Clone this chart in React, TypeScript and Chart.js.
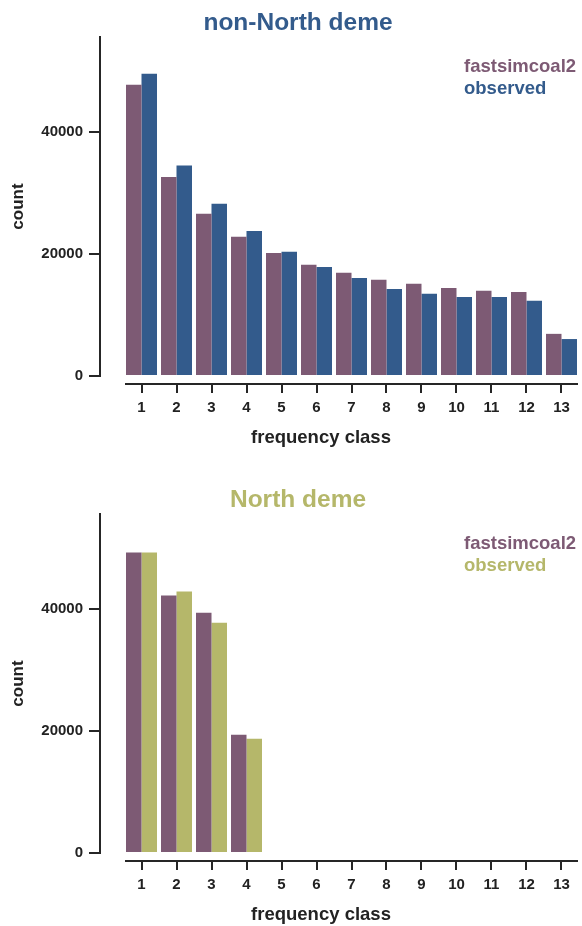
import React, { useEffect, useRef } from "react";
import { Chart, registerables } from "chart.js";

Chart.register(...registerables);

const FONT = "'Liberation Sans', Arial, sans-serif";
Chart.defaults.font.family = FONT;
Chart.defaults.font.weight = "bold";

// ---- data ----
const classes = [1, 2, 3, 4, 5, 6, 7, 8, 9, 10, 11, 12, 13];
const yTickValues = [0, 20000, 40000];
const yMax = 55500;

const nonNorthFsc = [47700, 32600, 26550, 22800, 20150, 18200, 16900, 15750, 15100, 14400, 13950, 13750, 6900];
const nonNorthObs = [49500, 34450, 28200, 23750, 20350, 17850, 16050, 14250, 13450, 12950, 12950, 12300, 6050];
const northFsc = [49200, 42150, 39350, 19350, 0, 0, 0, 0, 0, 0, 0, 0, 0];
const northObs = [49200, 42800, 37700, 18700, 0, 0, 0, 0, 0, 0, 0, 0, 0];

const FSC_COLOR = "#7d5a74";
const BLUE = "#335b8c";
const OLIVE = "#b5b76a";
const AXIS = "#262626";
const TEXT = "#222222";

if (typeof document !== "undefined") {
  document.body.style.margin = "0";
}

const panelText = {
  id: "panelText",
  afterDraw(chart: any, _args: any, opts: any) {
    const ctx = chart.ctx;
    const ca = chart.chartArea;
    ctx.save();
    ctx.textBaseline = "middle";
    // title
    ctx.font = `bold 24.5px ${FONT}`;
    ctx.fillStyle = opts.titleColor;
    ctx.textAlign = "center";
    ctx.fillText(opts.title, ca.left + 172, ca.top - 14);
    // legend
    ctx.font = `bold 18.5px ${FONT}`;
    ctx.textAlign = "left";
    chart.data.datasets.forEach((ds: any, i: number) => {
      ctx.fillStyle = ds.backgroundColor;
      ctx.fillText(ds.label, ca.right - 113, ca.top + 30 + i * 22);
    });
    // x axis title
    ctx.fillStyle = TEXT;
    ctx.font = `bold 18.5px ${FONT}`;
    ctx.textAlign = "center";
    ctx.fillText("frequency class", ca.left + 195, ca.bottom + 62);
    // y axis title
    ctx.translate(18.5, (ca.top + ca.bottom) / 2);
    ctx.rotate(-Math.PI / 2);
    ctx.font = `bold 17px ${FONT}`;
    ctx.fillText("count", 0, 0);
    ctx.restore();
  },
};

type PanelProps = {
  title: string;
  titleColor: string;
  obsColor: string;
  fsc: number[];
  obs: number[];
  height: number;
};

function Panel({ title, titleColor, obsColor, fsc, obs, height }: PanelProps) {
  const ref = useRef<HTMLCanvasElement | null>(null);
  useEffect(() => {
    if (!ref.current) return;
    const tickFont = { size: 15, weight: "bold" as const };
    const chart = new Chart(ref.current, {
      type: "bar",
      data: {
        datasets: [
          {
            label: "fastsimcoal2",
            data: classes.map((c, i) => ({ x: c, y: fsc[i] })),
            backgroundColor: FSC_COLOR,
            borderWidth: 0,
            categoryPercentage: 31 / 35,
            barPercentage: 1,
            xAxisID: "x",
            yAxisID: "y",
          },
          {
            label: "observed",
            data: classes.map((c, i) => ({ x: c, y: obs[i] })),
            backgroundColor: obsColor,
            borderWidth: 0,
            categoryPercentage: 31 / 35,
            barPercentage: 1,
            xAxisID: "x",
            yAxisID: "y",
          },
        ],
      },
      options: {
        responsive: false,
        animation: false,
        events: [],
        layout: { padding: { left: 0, right: 5, top: 37, bottom: height - 376 - 8 - 40 } },
        plugins: {
          legend: { display: false },
          tooltip: { enabled: false },
          title: { display: false },
          panelText: { title, titleColor },
        } as any,
        scales: {
          x: {
            type: "linear",
            position: "bottom",
            weight: 1,
            offset: false,
            bounds: "data",
            min: 0.557,
            max: 13.443,
            afterBuildTicks: (s: any) => {
              s.ticks = classes.map((v) => ({ value: v }));
            },
            afterFit: (s: any) => {
              s.height = 40;
            },
            grid: { display: true, offset: false, drawOnChartArea: false, drawTicks: true, tickLength: 9, color: AXIS, lineWidth: 2 },
            border: { display: true, color: AXIS, width: 2 },
            ticks: { color: TEXT, font: tickFont, padding: 6, autoSkip: false, maxRotation: 0, callback: (v: any) => String(v) },
          },
          xPad: {
            type: "linear",
            position: "bottom",
            weight: 0,
            grid: { display: false },
            border: { display: false },
            ticks: { display: false },
            afterFit: (s: any) => {
              s.height = 8;
            },
          },
          y: {
            type: "linear",
            position: "left",
            weight: 1,
            bounds: "data",
            min: 0,
            max: yMax,
            afterBuildTicks: (s: any) => {
              s.ticks = yTickValues.map((v) => ({ value: v }));
            },
            afterFit: (s: any) => {
              s.width = 100;
            },
            grid: { display: true, drawOnChartArea: false, drawTicks: true, tickLength: 11, color: AXIS, lineWidth: 2 },
            border: { display: true, color: AXIS, width: 2 },
            ticks: { color: TEXT, font: tickFont, padding: 6, callback: (v: any) => String(v) },
          },
          yPad: {
            type: "linear",
            position: "left",
            weight: 0,
            grid: { display: false },
            border: { display: false },
            ticks: { display: false },
            afterFit: (s: any) => {
              s.width = 26;
            },
          },
        } as any,
      },
      plugins: [panelText],
    });
    return () => chart.destroy();
  }, [title, titleColor, obsColor, fsc, obs, height]);
  return (
    <canvas
      ref={ref}
      width={582}
      height={height}
      style={{ display: "block", width: 582, height }}
    />
  );
}

export default function App() {
  return (
    <div style={{ width: 582 }}>
      <Panel title="non-North deme" titleColor={BLUE} obsColor={BLUE} fsc={nonNorthFsc} obs={nonNorthObs} height={477} />
      <Panel title="North deme" titleColor={OLIVE} obsColor={OLIVE} fsc={northFsc} obs={northObs} height={449} />
    </div>
  );
}
